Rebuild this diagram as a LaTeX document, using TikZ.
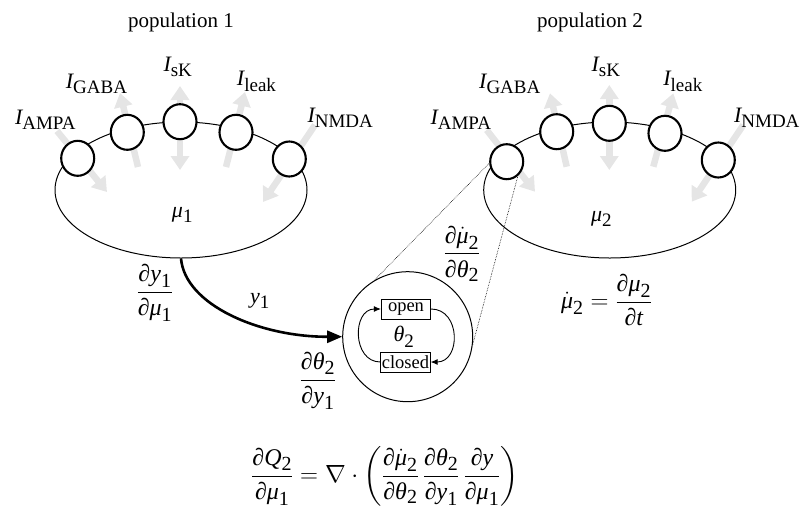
\documentclass[tikz,border=0pt]{standalone}
\usepackage{amsmath}
\usepackage{fontspec}
\setmainfont{Liberation Serif}
\usetikzlibrary{arrows.meta,shapes.geometric}
\DeclareMathSizes{22}{22}{19}{15}
\DeclareMathSizes{24}{24}{20}{16}
\newcommand{\vI}{\textit{I}}
\newcommand{\vmu}{\textit{μ}}
\newcommand{\vth}{\textit{θ}}
\newcommand{\vy}{\textit{y}}
\newcommand{\vQ}{\textit{Q}}
\newcommand{\vt}{\textit{t}}
\newcommand{\pdd}{\text{∂}}
\newcommand{\sbt}[1]{_{\text{#1}}}
\tikzset{
  lab/.style={font=\fontsize{22}{26}\selectfont, inner sep=0pt},
  flab/.style={font=\fontsize{24}{28}\selectfont, inner sep=0pt},
  poplab/.style={font=\fontsize{21}{24}\selectfont, inner sep=0pt},
  popell/.style={ellipse, draw, line width=1pt, minimum width=252pt, minimum height=136pt, inner sep=0pt},
  nrn/.style={ellipse, draw, line width=2.1pt, fill=white, minimum width=33pt, minimum height=35pt, inner sep=0pt},
  garrow/.style={line width=6.5pt, draw=black!10, -{Triangle[length=14pt,width=18pt]}},
  gdarrow/.style={line width=6.5pt, draw=black!10, {Triangle[length=14pt,width=18pt]}-{Triangle[length=14pt,width=18pt]}},
  statebox/.style={draw, line width=0.7pt, font=\fontsize{18.5}{20}\selectfont, inner sep=0.5pt, minimum width=49.5pt, minimum height=20pt},
  cyc/.style={line width=0.9pt, -{Latex[length=7pt,width=6pt]}},
  yarrow/.style={line width=2.6pt, -{Triangle[length=15pt,width=12pt]}},
  zoomline/.style={line width=0.6pt, densely dotted}
}
\begin{document}
\begin{tikzpicture}[x=1pt,y=-1pt]
\useasboundingbox (0,0) rectangle (805,517);

% population labels
\node[poplab] (p1) at (181,22) {population 1};
\node[poplab] (p2) at (590,22) {population 2};

% gray current arrows, population 1
\coordinate (ga1s) at (57,131);  \coordinate (ga1e) at (107,192);
\coordinate (gb1s) at (138,167); \coordinate (gb1e) at (120,93);
\coordinate (gc1s) at (180,170); \coordinate (gc1e) at (180,86);
\coordinate (gd1s) at (226,167); \coordinate (gd1e) at (245,92);
\coordinate (gf1s) at (315,125); \coordinate (gf1e) at (263,202);
\draw[garrow] (ga1s) -- (ga1e);
\draw[garrow] (gb1s) -- (gb1e);
\draw[gdarrow] (gc1s) -- (gc1e);
\draw[garrow] (gd1s) -- (gd1e);
\draw[garrow] (gf1s) -- (gf1e);

% gray current arrows, population 2
\coordinate (ga2s) at (486.7,130);  \coordinate (ga2e) at (535,191.7);
\coordinate (gb2s) at (566.7,166.7); \coordinate (gb2e) at (550,93.3);
\coordinate (gc2s) at (609.3,170);  \coordinate (gc2e) at (609.3,85);
\coordinate (gd2s) at (653.3,166.7); \coordinate (gd2e) at (673.3,93.3);
\coordinate (gf2s) at (743.3,125);  \coordinate (gf2e) at (691.7,201.7);
\draw[garrow] (ga2s) -- (ga2e);
\draw[garrow] (gb2s) -- (gb2e);
\draw[gdarrow] (gc2s) -- (gc2e);
\draw[garrow] (gd2s) -- (gd2e);
\draw[garrow] (gf2s) -- (gf2e);

% population ellipses
\node[popell] (e1) at (181,190) {};
\node[popell] (e2) at (609.7,190) {};

% neurons
\node[nrn] (a1) at (77.7,158.3) {};
\node[nrn] (b1) at (127.3,132.3) {};
\node[nrn] (c1) at (180,121.7) {};
\node[nrn] (d1) at (236,132.3) {};
\node[nrn] (f1) at (289.3,159) {};
\node[nrn] (a2) at (506.7,161.7) {};
\node[nrn] (b2) at (556.7,131.7) {};
\node[nrn] (c2) at (609.3,123.3) {};
\node[nrn] (d2) at (665,133.3) {};
\node[nrn] (f2) at (718.3,160) {};

% current labels
\node[lab] (la1) at (45.5,120) {$\vI\sbt{AMPA}$};
\node[lab] (lb1) at (96.7,84) {$\vI\sbt{GABA}$};
\node[lab] (lc1) at (178,67) {$\vI\sbt{sK}$};
\node[lab] (ld1) at (256.7,81) {$\vI\sbt{leak}$};
\node[lab] (lf1) at (340.5,118) {$\vI\sbt{NMDA}$};
\node[lab] (la2) at (461,120) {$\vI\sbt{AMPA}$};
\node[lab] (lb2) at (510,84) {$\vI\sbt{GABA}$};
\node[lab] (lc2) at (606,67) {$\vI\sbt{sK}$};
\node[lab] (ld2) at (683,81) {$\vI\sbt{leak}$};
\node[lab] (lf2) at (767,118) {$\vI\sbt{NMDA}$};

% mean labels
\node[lab] (m1) at (182.5,215) {$\vmu\sbt{1}$};
\node[lab] (m2) at (601.7,219) {$\vmu\sbt{2}$};

% channel state circle
\node[circle, draw, line width=1pt, minimum size=130pt, inner sep=0pt] (th) at (407.7,336.7) {};
\node[statebox] (op) at (406,309) {open};
\node[statebox] (cl) at (405.5,362) {closed};
\node[lab] (thl) at (404,337) {$\vth\sbt{2}$};
\draw[cyc] (cl.west) .. controls (352,362) and (352,309) .. (op.west);
\draw[cyc] (op.east) .. controls (461,309) and (461,362) .. (cl.east);

% zoom lines
\draw[zoomline] (th.121) -- (a2.185);
\draw[zoomline] (th.-7) -- (a2.-52);

% output arrow
\draw[yarrow] (e1.south) .. controls (185,305) and (260,337) .. (th.west);

% derivative labels
\node[flab] (dy1) at (155,293) {$\displaystyle\frac{\pdd\vy\sbt{1}}{\pdd\vmu\sbt{1}}$};
\node[lab] (y1l) at (260,301) {$\vy\sbt{1}$};
\node[flab] (dth) at (318,381) {$\displaystyle\frac{\pdd\vth\sbt{2}}{\pdd\vy\sbt{1}}$};
\node[flab] (dmu) at (462,254) {$\displaystyle\frac{\pdd\dot{\vmu}\sbt{2}}{\pdd\vth\sbt{2}}$};
\node[flab] (mud) at (606.7,300) {$\dot{\vmu}\sbt{2}=\displaystyle\frac{\pdd\vmu\sbt{2}}{\pdd\vt}$};

% bottom equation
\node[flab] (eq) at (385,476) {$\displaystyle\frac{\pdd\vQ\sbt{2}}{\pdd\vmu\sbt{1}}=\nabla\cdot\left(\frac{\pdd\dot{\vmu}\sbt{2}}{\pdd\vth\sbt{2}}\,\frac{\pdd\vth\sbt{2}}{\pdd\vy\sbt{1}}\,\frac{\pdd\vy}{\pdd\vmu\sbt{1}}\right)$};
\end{tikzpicture}
\end{document}
